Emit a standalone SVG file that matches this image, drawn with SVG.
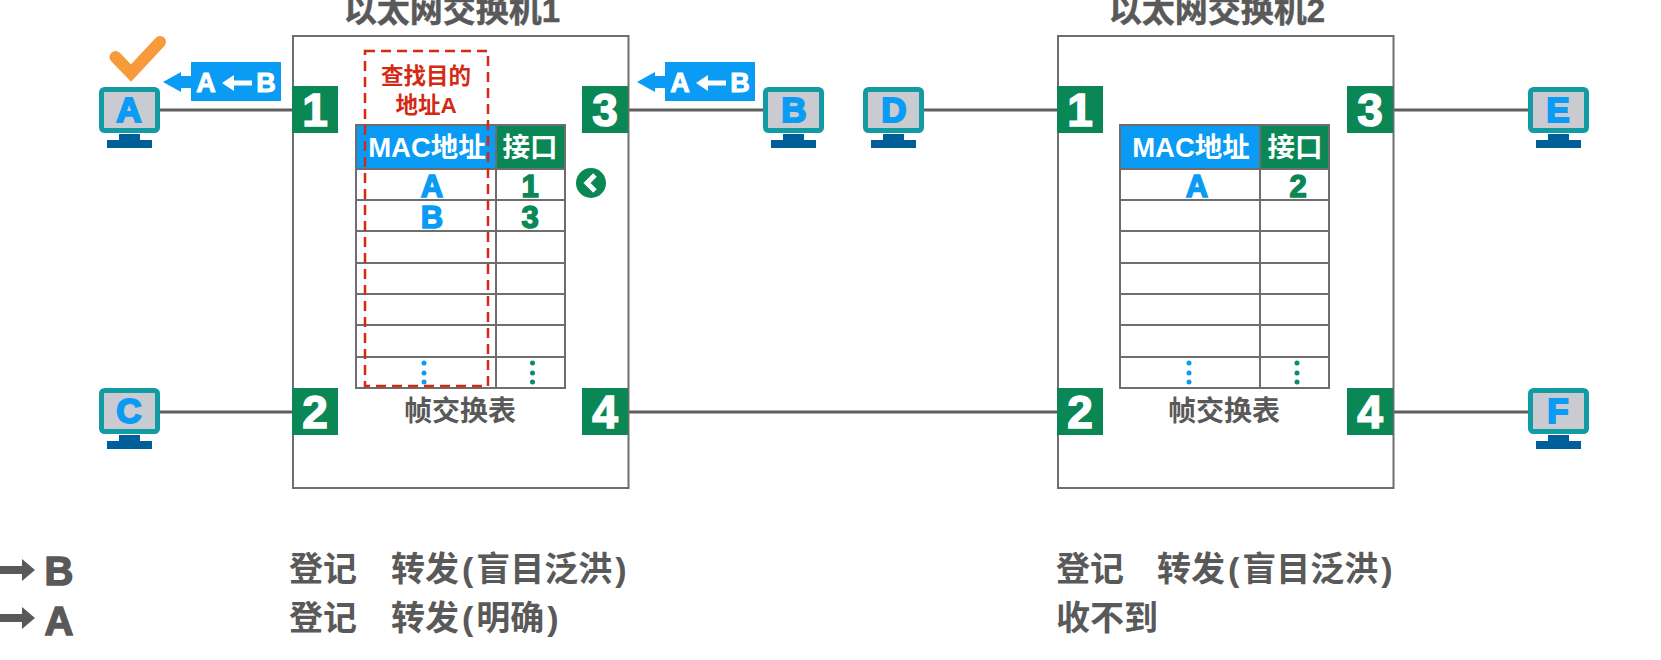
<svg xmlns="http://www.w3.org/2000/svg" width="1661" height="660" viewBox="0 0 1661 660">
<style>
text{font-family:"Liberation Sans","Noto Sans CJK SC",sans-serif;font-weight:700;text-anchor:middle}
.title{font-size:33px;fill:#595959;stroke:#595959;stroke-width:.5}
.note{font-size:34px;fill:#595959;text-anchor:start}
.tbl{font-size:28px;fill:#595959}
.box{fill:#fff;stroke:#6e6e6e;stroke-width:2}
.wire{stroke:#5f5f5f;stroke-width:3;fill:none}
.port{fill:#0a8754}
.portn{font-size:46px;fill:#fff;stroke:#fff;stroke-width:1.5}
.scr{fill:#c9cbd0;stroke:#129ba3;stroke-width:5}
.std{fill:#005f99}
.ml{font-size:35px;fill:#0a9bf5;stroke:#0a9bf5;stroke-width:2}
.grid{stroke:#6e6e6e;stroke-width:2;fill:none}
.hb{fill:#0a9bf5}
.hw{font-size:27.500px;fill:#fff}
.ca{font-size:31px;fill:#0a9bf5;stroke:#0a9bf5;stroke-width:1.500}
.cn{font-size:31px;fill:#0a8754;stroke:#0a8754;stroke-width:1.500}
.pk{font-size:27px;fill:#fff;stroke:#fff;stroke-width:1}
.red{font-size:22.500px;fill:#d42a14}
.bd{fill:#0a9bf5}
.gd{fill:#0a8a6e}
</style>
<defs>
<g id="mon">
<rect class="scr" x="2.5" y="2.5" width="56" height="41" rx="3"/>
<path class="std" d="M20 47h21v6H20zM8 53h45v8H8z"/>
</g>
<g id="pkt">
<path class="hb" d="M0 20 18 10V14H28V0H118V39H28V26H18V30Z"/>
<path d="M59 21 71 13V18.500H89V23.500H71V29Z" fill="#fff"/>
</g>
<g id="grid">
<rect class="grid" x="0" y="0" width="209" height="263"/>
<path class="grid" d="M140 0V263M0 44H209M0 75H209M0 106H209M0 138H209M0 169H209M0 200H209M0 232H209"/>
</g>
</defs>

<g id="connectors">
<path class="wire" d="M159 110H292M628 110H763M924 110H1057M1393 110H1528M159 412H292M628 412H1057M1393 412H1528"/>
</g>

<g id="switch1">
<rect class="box" x="293" y="36" width="335.500" height="452"/>
<text class="title" x="452" y="22">以太网交换机1</text>
</g>
<g id="switch2">
<rect class="box" x="1058" y="36" width="335.500" height="452"/>
<text class="title" x="1217" y="22">以太网交换机2</text>
</g>

<g id="table1">
<rect class="hb" x="356" y="125" width="140" height="44"/>
<rect class="port" x="496" y="125" width="69" height="44"/>
<use href="#grid" x="356" y="125"/>
<text class="hw" x="427" y="157">MAC地址</text>
<text class="hw" x="530" y="157">接口</text>
<text class="ca" x="432" y="197">A</text>
<text class="cn" x="530" y="197">1</text>
<text class="ca" x="432" y="228">B</text>
<text class="cn" x="530" y="228">3</text>
<g class="bd"><circle cx="424" cy="363" r="2.500"/><circle cx="424" cy="373" r="2.500"/><circle cx="424" cy="382" r="2.500"/></g>
<g class="gd"><circle cx="532.500" cy="363" r="2.500"/><circle cx="532.500" cy="373" r="2.500"/><circle cx="532.500" cy="382" r="2.500"/></g>
<text class="tbl" x="460" y="421">帧交换表</text>
</g>
<g id="table2">
<rect class="hb" x="1120" y="125" width="140" height="44"/>
<rect class="port" x="1260" y="125" width="69" height="44"/>
<use href="#grid" x="1120" y="125"/>
<text class="hw" x="1191" y="157">MAC地址</text>
<text class="hw" x="1295" y="157">接口</text>
<text class="ca" x="1197" y="197">A</text>
<text class="cn" x="1298" y="197">2</text>
<g class="bd"><circle cx="1189" cy="363" r="2.500"/><circle cx="1189" cy="373" r="2.500"/><circle cx="1189" cy="382" r="2.500"/></g>
<g class="gd"><circle cx="1297" cy="363" r="2.500"/><circle cx="1297" cy="373" r="2.500"/><circle cx="1297" cy="382" r="2.500"/></g>
<text class="tbl" x="1224" y="421">帧交换表</text>
</g>

<g id="lookup">
<rect x="365" y="51" width="123" height="335" fill="none" stroke="#d42a14" stroke-width="2.500" stroke-dasharray="10 6"/>
<text class="red" x="426" y="84">查找目的</text>
<text class="red" x="426" y="113">地址A</text>
</g>

<g id="s1p1"><rect class="port" x="292" y="86" width="46" height="47"/><text class="portn" x="315" y="126">1</text></g>
<g id="s1p3"><rect class="port" x="582" y="86" width="46" height="47"/><text class="portn" x="605" y="126">3</text></g>
<g id="s1p2"><rect class="port" x="292" y="388" width="46" height="47"/><text class="portn" x="315" y="428">2</text></g>
<g id="s1p4"><rect class="port" x="582" y="388" width="46" height="47"/><text class="portn" x="605" y="428">4</text></g>
<g id="s2p1"><rect class="port" x="1057" y="86" width="46" height="47"/><text class="portn" x="1080" y="126">1</text></g>
<g id="s2p3"><rect class="port" x="1347" y="86" width="46" height="47"/><text class="portn" x="1370" y="126">3</text></g>
<g id="s2p2"><rect class="port" x="1057" y="388" width="46" height="47"/><text class="portn" x="1080" y="428">2</text></g>
<g id="s2p4"><rect class="port" x="1347" y="388" width="46" height="47"/><text class="portn" x="1370" y="428">4</text></g>

<g id="hostA"><use href="#mon" x="99" y="87"/><text class="ml" x="129" y="122">A</text></g>
<g id="hostB"><use href="#mon" x="763" y="87"/><text class="ml" x="794" y="122">B</text></g>
<g id="hostC"><use href="#mon" x="99" y="388"/><text class="ml" x="129" y="423">C</text></g>
<g id="hostD"><use href="#mon" x="863" y="87"/><text class="ml" x="894" y="122">D</text></g>
<g id="hostE"><use href="#mon" x="1528" y="87"/><text class="ml" x="1558" y="122">E</text></g>
<g id="hostF"><use href="#mon" x="1528" y="388"/><text class="ml" x="1558" y="423">F</text></g>

<g id="check"><path d="M115.500 57 131 73 160 42" fill="none" stroke="#f79a3b" stroke-width="12" stroke-linecap="round" stroke-linejoin="miter"/></g>

<g id="packet1"><use href="#pkt" x="163" y="62"/><text class="pk" x="206" y="92">A</text><text class="pk" x="266" y="92">B</text></g>
<g id="packet2"><use href="#pkt" x="637" y="62"/><text class="pk" x="680" y="92">A</text><text class="pk" x="740" y="92">B</text></g>

<g id="chevron"><circle cx="591" cy="183" r="15" fill="#0a8754"/><path d="M595 175 587 183 595 191" fill="none" stroke="#fff" stroke-width="5"/></g>

<g id="legend">
<path d="M0 566H22V559L35 570 22 581V574H0Z" fill="#595959"/>
<text x="59" y="585" font-size="40" fill="#595959" stroke="#595959" stroke-width="1.500">B</text>
<path d="M0 614H22V607L35 618 22 629V622H0Z" fill="#595959"/>
<text x="59" y="635" font-size="40" fill="#595959" stroke="#595959" stroke-width="1.500">A</text>
</g>
<g id="notes">
<text class="note" x="289" y="581">登记</text>
<text class="note" x="391" y="581">转发<tspan dx="3">(</tspan><tspan dx="3">盲目泛洪</tspan><tspan dx="3">)</tspan></text>
<text class="note" x="289" y="630">登记</text>
<text class="note" x="391" y="630">转发<tspan dx="3">(</tspan><tspan dx="3">明确</tspan><tspan dx="3">)</tspan></text>
<text class="note" x="1056" y="581">登记</text>
<text class="note" x="1157" y="581">转发<tspan dx="3">(</tspan><tspan dx="3">盲目泛洪</tspan><tspan dx="3">)</tspan></text>
<text class="note" x="1056" y="630">收不到</text>
</g>
</svg>
